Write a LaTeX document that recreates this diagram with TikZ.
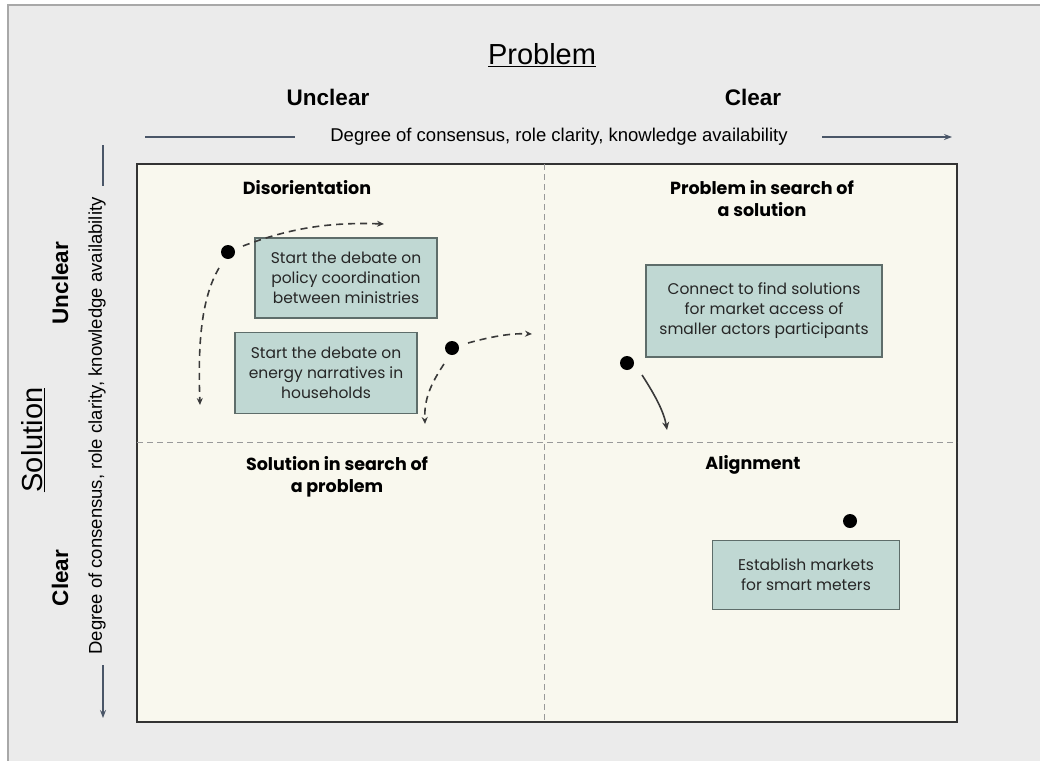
\documentclass[tikz,border=0pt]{standalone}
\usepackage{fontspec}
\setmainfont{Poppins}
\newfontfamily\axisfont{Liberation Sans}
\usepackage{tikz}
\usetikzlibrary{arrows.meta}
\definecolor{pagegray}{HTML}{EBEBEB}
\definecolor{framegray}{HTML}{A8A8A8}
\definecolor{panelcream}{HTML}{F9F8EE}
\definecolor{cardfill}{HTML}{C0D8D3}
\definecolor{cardline}{HTML}{5E6D6A}
\definecolor{axisslate}{HTML}{4A5668}
\definecolor{inkgray}{HTML}{3A3A3A}

\begin{document}
\begin{tikzpicture}[
    x=1pt, y=-1pt,
    quad/.style={font=\bfseries\fontsize{17.5}{22}\selectfont, align=center},
    card/.style={rectangle, draw=cardline, fill=cardfill, line width=1.1pt, align=center,
        font=\fontsize{15.5}{20}\selectfont, text=black!85, inner sep=0pt},
    dot/.style={circle, fill=black, inner sep=0pt, minimum size=14pt},
    axistext/.style={font=\axisfont\fontsize{18.5}{20}\selectfont},
    axislabel/.style={font=\axisfont\bfseries\fontsize{22.5}{24}\selectfont},
    axistitle/.style={font=\axisfont\fontsize{29}{32}\selectfont},
    axisline/.style={draw=axisslate, line width=1.2pt},
    move/.style={dashed, dash pattern=on 7pt off 5pt, draw=inkgray, line width=1.6pt, -{Stealth[length=7pt,width=6pt]}},
    solidmove/.style={draw=inkgray, line width=1.6pt, -{Stealth[length=8pt,width=7pt]}}
]
\useasboundingbox (0,0) rectangle (1040,760);
\fill[white] (0,0) rectangle (1040,760);
\draw[framegray, line width=1.5pt, fill=pagegray] (8,5) rectangle (1050,770);

% Panel and quadrants
\draw[black!80, line width=1.2pt, fill=panelcream] (137,164) rectangle (957,722);
\draw[gray!80, dashed, dash pattern=on 6pt off 4pt, line width=0.8pt] (544,164) -- (544,722);
\draw[gray!80, dashed, dash pattern=on 6pt off 4pt, line width=0.8pt] (137,442) -- (957,442);

% Top axis
\node[axistitle] (problem) at (542,55) {\underline{Problem}};
\node[axislabel] (unclearP) at (328,97) {Unclear};
\node[axislabel] (clearP) at (753,97) {Clear};
\node[axistext] (degreeP) at (559,137) {Degree of consensus, role clarity, knowledge availability};
\coordinate (pstart) at (145,137);
\coordinate (pmid1) at (295,137);
\coordinate (pmid2) at (822,137);
\coordinate (pend) at (952,137);
\draw[axisline] (pstart) -- (pmid1);
\draw[axisline, -{Stealth[length=8pt,width=6pt]}] (pmid2) -- (pend);

% Left axis
\node[axistitle, rotate=90] (solution) at (33,440) {\underline{Solution}};
\node[axislabel, rotate=90] (unclearS) at (60,283) {Unclear};
\node[axislabel, rotate=90] (clearS) at (60,578) {Clear};
\node[axistext, rotate=90] (degreeS) at (97,426) {Degree of consensus, role clarity, knowledge availability};
\coordinate (sstart) at (103,145);
\coordinate (smid1) at (103,186);
\coordinate (smid2) at (103,665);
\coordinate (send) at (103,718);
\draw[axisline] (sstart) -- (smid1);
\draw[axisline, -{Stealth[length=8pt,width=6pt]}] (smid2) -- (send);

% Quadrant titles
\node[quad] (disorient) at (307,188) {Disorientation};
\node[quad] (probsearch) at (762,199) {Problem in search of\\a solution};
\node[quad] (solsearch) at (337,477) {Solution in search of\\a problem};
\node[quad] (align) at (753,465) {Alignment};

% Cards
\node[card, minimum width=182pt, minimum height=80pt] (policy) at (346,278) {Start the debate on\\policy coordination\\between ministries};
\node[card, minimum width=182pt, minimum height=81pt] (energy) at (326,373) {Start the debate on\\energy narratives in\\households};
\node[card, minimum width=236pt, minimum height=92pt] (market) at (764,311) {Connect to find solutions\\for market access of\\smaller actors participants};
\node[card, minimum width=187pt, minimum height=69pt] (meters) at (806,575) {Establish markets\\for smart meters};

% Dots
\node[dot] (d1) at (228,252) {};
\node[dot] (d2) at (452,348) {};
\node[dot] (d3) at (627,363) {};
\node[dot] (d4) at (850,521) {};

% Arrows
\coordinate (d1right) at (384,224);
\coordinate (d1down) at (200,405);
\coordinate (d2right) at (532,334);
\coordinate (d2down) at (425,424);
\coordinate (d3down) at (667,430);
\draw[move] (d1) ++(15,-6) .. controls (290,228) and (330,222) .. (d1right);
\draw[move] (d1) ++(-9,16) .. controls (200,300) and (198,350) .. (d1down);
\draw[move] (d2) ++(16,-5) .. controls (490,337) and (510,333) .. (d2right);
\draw[move] (d2) ++(-8,16) .. controls (430,385) and (424,400) .. (d2down);
\draw[solidmove] (d3) ++(15,12) .. controls (655,395) and (664,412) .. (d3down);

\end{tikzpicture}
\end{document}
